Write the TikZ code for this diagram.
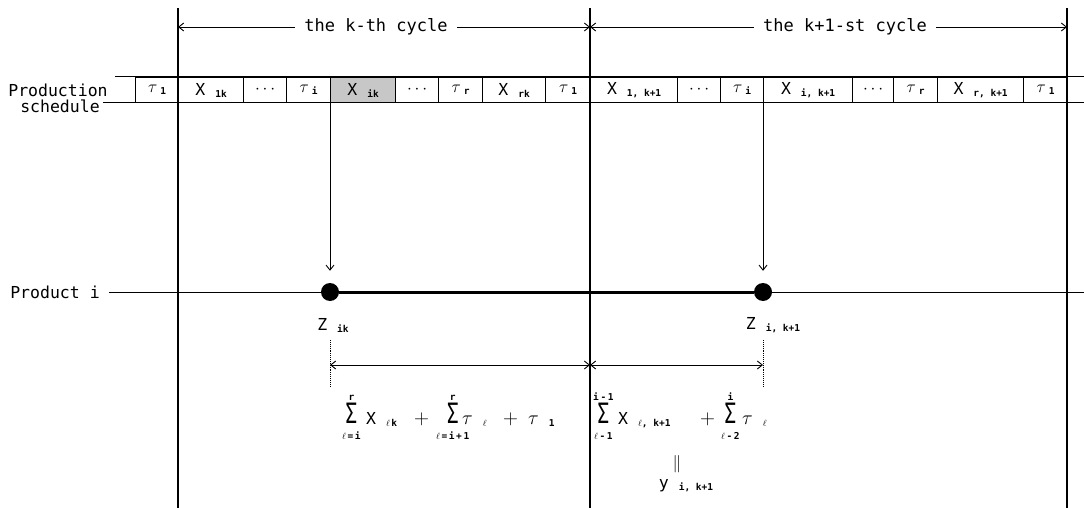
\documentclass[tikz,border=0pt]{standalone}
\usepackage{fontspec}
\usepackage{graphicx}
\newfontfamily\monof{DejaVu Sans Mono}
\usetikzlibrary{arrows.meta}
\newcommand\sbx[1]{\raisebox{-2pt}{\fontsize{9.5}{10}\selectfont\bfseries #1}}
\newcommand\sbxm[1]{{\fontsize{9.5}{10}\selectfont\bfseries #1}}
\newcommand\sumlim[2]{\begin{tabular}[c]{@{}c@{}}\sbxm{#2}\\[-3pt]\scalebox{1.2}[1.7]{Σ}\\[-2pt]\sbxm{#1}\end{tabular}}
\begin{document}
\begin{tikzpicture}[x=1pt,y=-1pt,
  every node/.style={font=\monof\fontsize{16.5}{18}\selectfont},
  box/.style={draw,line width=1.2pt,minimum height=25pt,inner sep=0pt,anchor=west},
  mainline/.style={line width=1.8pt},
  thin/.style={line width=1pt},
  dimarrow/.style={line width=0.9pt,{Straight Barb[length=5pt,width=8pt]}-{Straight Barb[length=5pt,width=8pt]}},
  downarrow/.style={line width=0.9pt,-{Straight Barb[length=5pt,width=8pt]}},
  dot/.style={circle,fill=black,inner sep=0pt,minimum size=18pt},
  dimtext/.style={fill=white,inner xsep=9pt,inner ysep=2pt},
  guide/.style={line width=0.9pt,densely dotted},
  sumpart/.style={anchor=west,inner sep=0pt},
  term/.style={anchor=base west,inner sep=0pt}]
\useasboundingbox (0,0) rectangle (1084,508);

% main vertical lines
\coordinate (v1t) at (178,8);  \coordinate (v1b) at (178,508);
\coordinate (v2t) at (590,8);  \coordinate (v2b) at (590,508);
\coordinate (v3t) at (1067,8); \coordinate (v3b) at (1067,508);

% schedule bar
\coordinate (bart) at (115,77);  \coordinate (barte) at (1084,77);
\coordinate (barb) at (103,103); \coordinate (barbe) at (1084,103);
\draw[thin] (bart) -- (barte);
\draw[thin] (barb) -- (barbe);

\node[box,minimum width=43pt] (b1) at (135,90) {$\tau$\,\sbx{1}};
\node[box,minimum width=65pt] (b2) at (178,90) {X \sbx{1k}};
\node[box,minimum width=43pt] (b3) at (243,90) {$\cdots$};
\node[box,minimum width=44pt] (b4) at (286,90) {$\tau$\,\sbx{i}};
\node[box,minimum width=65pt,fill=black!22] (b5) at (330,90) {X \sbx{ik}};
\node[box,minimum width=43pt] (b6) at (395,90) {$\cdots$};
\node[box,minimum width=44pt] (b7) at (438,90) {$\tau$\,\sbx{r}};
\node[box,minimum width=63pt] (b8) at (482,90) {X \sbx{rk}};
\node[box,minimum width=45pt] (b9) at (545,90) {$\tau$\,\sbx{1}};
\node[box,minimum width=87pt] (b10) at (590,90) {X \sbx{1, k+1}};
\node[box,minimum width=43pt] (b11) at (677,90) {$\cdots$};
\node[box,minimum width=43pt] (b12) at (720,90) {$\tau$\,\sbx{i}};
\node[box,minimum width=89pt] (b13) at (763,90) {X \sbx{i, k+1}};
\node[box,minimum width=41pt] (b14) at (852,90) {$\cdots$};
\node[box,minimum width=44pt] (b15) at (893,90) {$\tau$\,\sbx{r}};
\node[box,minimum width=86pt] (b16) at (937,90) {X \sbx{r, k+1}};
\node[box,minimum width=44pt] (b17) at (1023,90) {$\tau$\,\sbx{1}};

\node (ps1) at (58,90) {Production};
\node (ps2) at (60,106) {schedule};

\draw[mainline] (v1t) -- (v1b);
\draw[mainline] (v2t) -- (v2b);
\draw[mainline] (v3t) -- (v3b);

% cycle arrows
\coordinate (c1) at (178,27); \coordinate (c2) at (590,27); \coordinate (c3) at (1067,27);
\draw[dimarrow] (c1) -- (c2);
\draw[dimarrow] (c2) -- (c3);
\node[dimtext,font=\monof\fontsize{17}{18}\selectfont] (kc) at (376,27) {the k-th cycle};
\node[dimtext,font=\monof\fontsize{17}{18}\selectfont] (k1c) at (845,27) {the k+1-st cycle};

% product line
\node (prod) at (55,292) {Product i};
\coordinate (pe) at (1084,292);
\draw[thin] (prod.east) ++(6,0) -- (pe);
\node[dot] (z1) at (330,292) {};
\node[dot] (z2) at (763,292) {};
\draw[line width=3pt] (z1) -- (z2);

\draw[downarrow] (b5.south west) -- ([yshift=12pt]z1.north);
\draw[downarrow] (b13.south west) -- ([yshift=12pt]z2.north);

\node (zl1) at (333,325) {Z \sbx{ik}};
\node (zl2) at (773,325) {Z \sbx{i, k+1}};

% dimension below
\coordinate (g1t) at (330,340); \coordinate (g1b) at (330,387);
\coordinate (g2t) at (763,340); \coordinate (g2b) at (763,387);
\draw[guide] (g1t) -- (g1b);
\draw[guide] (g2t) -- (g2b);
\coordinate (d1) at (330,365); \coordinate (d2) at (590,365); \coordinate (d3) at (763,365);
\draw[dimarrow] (d1) -- (d2);
\draw[dimarrow] (d2) -- (d3);

% left formula
\node[sumpart] (s1) at (342,416) {\sumlim{$\ell$\,=\,i}{r}};
\node[term] (t1) at (366,424) {X \sbx{$\ell$\,k}};
\node[term] (p1) at (414,424) {\scalebox{1.2}{$+$}};
\node[sumpart] (s2) at (436,416) {\sumlim{$\ell$\,=\,i\,+\,1}{r}};
\node[term] (t2) at (462,424) {\scalebox{1.15}{$\tau$}\ \sbx{$\ell$}};
\node[term] (p2) at (503,424) {\scalebox{1.2}{$+$}};
\node[term] (t3) at (528,424) {\scalebox{1.15}{$\tau$}\ \sbx{1}};

% right formula
\node[sumpart] (s3) at (593,416) {\sumlim{$\ell$\,-\,1}{i\,-\,1}};
\node[term] (t4) at (618,424) {X \sbx{$\ell$, k+1}};
\node[term] (p3) at (700,424) {\scalebox{1.2}{$+$}};
\node[sumpart] (s4) at (721,416) {\sumlim{$\ell$\,-\,2}{i}};
\node[term] (t5) at (742,424) {\scalebox{1.15}{$\tau$}\ \sbx{$\ell$}};

\node (eq) at (677,464) {$\|$};
\node (y) at (686,486) {y \sbx{i, k+1}};
\end{tikzpicture}
\end{document}
